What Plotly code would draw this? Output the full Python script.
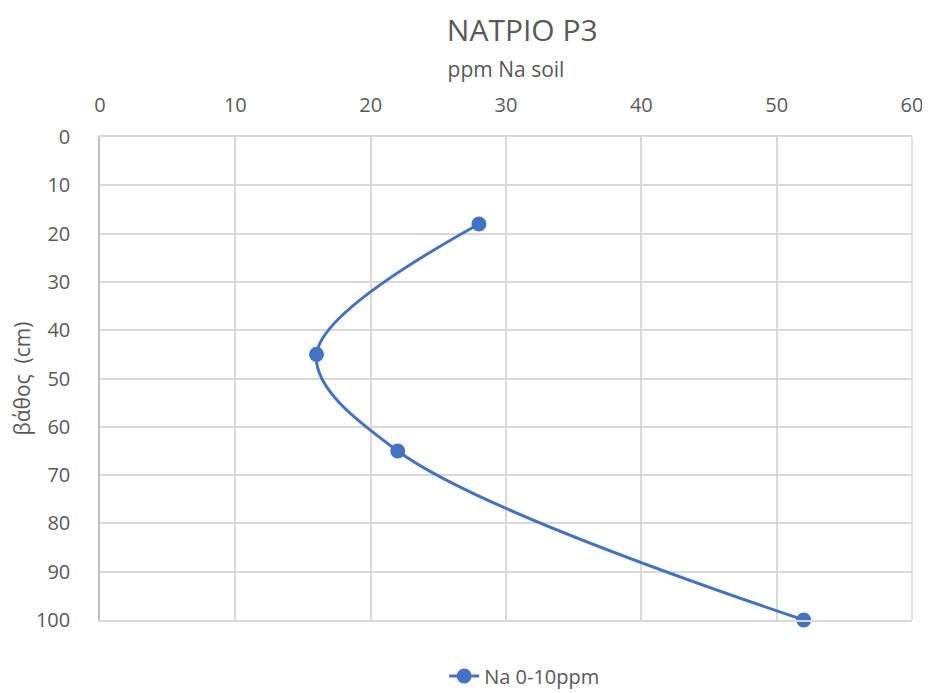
import plotly.graph_objects as go

na_ppm = [28, 16, 22, 52]
depth_cm = [18, 45, 65, 100]
series_name = "Na 0-10ppm"
title_text = "ΝΑΤΡΙΟ Ρ3"
x_title = "ppm Na soil"
y_title = "βάθος  (cm)"

font_family = "Open Sans, Noto Sans, DejaVu Sans, sans-serif"
gray = "#595959"

fig = go.Figure()
fig.add_trace(go.Scatter(
    x=na_ppm, y=depth_cm, mode="lines+markers", name=series_name,
    line=dict(color="#4472C4", width=3, shape="spline", smoothing=1.0),
    marker=dict(color="#4472C4", size=15), cliponaxis=False,
))

fig.update_layout(
    width=930, height=693,
    paper_bgcolor="white", plot_bgcolor="white",
    margin=dict(l=92, r=26, t=129, b=81, autoexpand=False),
    font=dict(family=font_family, color=gray, size=20),
    title=dict(text=title_text, x=0.553, xanchor="center", y=0.968, yanchor="middle",
               font=dict(size=30, color=gray, family=font_family)),
    showlegend=True,
    legend=dict(orientation="h", x=0.523, xanchor="center", y=-0.116, yanchor="middle",
                font=dict(size=20, color=gray)),
    xaxis=dict(side="top", range=[0, 60], dtick=10, showgrid=True, automargin=False,
               gridcolor="#d9d9d9", gridwidth=1.5, zeroline=False,
               showline=True, linecolor="#d9d9d9", linewidth=1.5, mirror=True,
               ticks="", ticklabelstandoff=15, tickfont=dict(size=20, color=gray),
               title=dict(text=x_title, font=dict(size=21, color=gray), standoff=8)),
    yaxis=dict(range=[100, 0], dtick=10, showgrid=True, automargin=False,
               gridcolor="#d9d9d9", gridwidth=1.5, zeroline=False,
               showline=True, linecolor="#bfbfbf", linewidth=1.5, mirror=False,
               ticks="", ticklabelstandoff=24, tickfont=dict(size=20, color=gray),
               title=dict(text=y_title, font=dict(size=21, color=gray), standoff=9)),
)
fig.add_shape(type="line", xref="paper", yref="paper", x0=1, x1=1, y0=0, y1=1,
              line=dict(color="#d9d9d9", width=1.5), layer="below")

fig.write_html("out.html")
